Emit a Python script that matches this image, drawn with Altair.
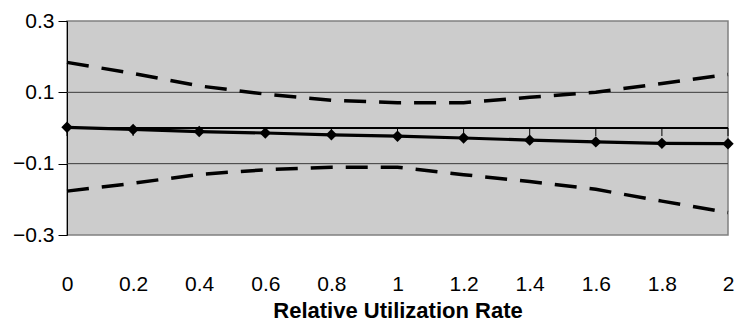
import altair as alt
import pandas as pd

x_vals = [0, 0.2, 0.4, 0.6, 0.8, 1.0, 1.2, 1.4, 1.6, 1.8, 2.0]
estimate = [0.002, -0.004, -0.010, -0.014, -0.019, -0.023, -0.028, -0.034, -0.039, -0.043, -0.044]
upper = [0.184, 0.153, 0.118, 0.095, 0.078, 0.071, 0.071, 0.086, 0.100, 0.125, 0.150]
lower = [-0.177, -0.155, -0.130, -0.117, -0.110, -0.110, -0.131, -0.150, -0.172, -0.205, -0.237]
y_ticks = [0.3, 0.1, -0.1, -0.3]
grid_vals = [0.1, -0.1]
x_ticks = [0, 0.2, 0.4, 0.6, 0.8, 1.0, 1.2, 1.4, 1.6, 1.8, 2.0]

LABEL_FONT = "Liberation Sans"
TITLE_FONT = "Liberation Sans"

est_df = pd.DataFrame({"x": x_vals, "y": estimate})
band_df = pd.concat([
    pd.DataFrame({"x": x_vals, "y": upper, "s": "upper"}),
    pd.DataFrame({"x": x_vals, "y": lower, "s": "lower"}),
])
grid_df = pd.DataFrame({"g": grid_vals})
tick_df = pd.DataFrame({"x": x_ticks})

xs = alt.Scale(domain=[0, 2], nice=False, zero=False)
ys = alt.Scale(domain=[-0.3, 0.3], nice=False, zero=False)

x_axis = alt.Axis(
    values=x_ticks, title="Relative Utilization Rate", domain=False, ticks=False,
    grid=False, labelPadding=38, labelFontSize=21, labelFont=LABEL_FONT,
    labelColor="#000", labelFlush=False, labelExpr="format(datum.value, '~g')",
    titleFont=TITLE_FONT, titleFontSize=22, titleFontWeight="bold",
    titleColor="#000", titlePadding=6,
)
y_axis = alt.Axis(
    values=y_ticks, title=None, grid=False, domain=True, domainColor="#000",
    domainWidth=1, ticks=True, tickSize=9, tickColor="#000", labelPadding=4,
    labelFontSize=21, labelFont=LABEL_FONT, labelColor="#000",
    labelExpr="format(datum.value, '.1f')", labelFlush=False,
)

grid = alt.Chart(grid_df).mark_rule(color="#3a3a3a", strokeWidth=1).encode(
    y=alt.Y("g:Q", scale=ys, axis=y_axis, title=None)
)
zero_line = alt.Chart(tick_df).mark_rule(color="#000", strokeWidth=1.2).encode(
    y=alt.datum(0, scale=ys),
)
ticks = alt.Chart(tick_df).mark_rule(color="#000", strokeWidth=1, y2Offset=8).encode(
    x=alt.X("x:Q", scale=xs, axis=x_axis, title="Relative Utilization Rate"),
    y=alt.datum(0),
    y2=alt.datum(0),
)
bands = alt.Chart(band_df).mark_line(
    color="#000", strokeWidth=3.5, strokeDash=[22, 13], strokeCap="butt"
).encode(
    x=alt.X("x:Q", scale=xs, axis=x_axis, title="Relative Utilization Rate"),
    y=alt.Y("y:Q", scale=ys, axis=y_axis, title=None),
    detail="s:N",
)
line = alt.Chart(est_df).mark_line(color="#000", strokeWidth=3.2).encode(
    x=alt.X("x:Q", scale=xs), y=alt.Y("y:Q", scale=ys)
)
pts = alt.Chart(est_df).mark_point(
    shape="diamond", filled=True, color="#000", size=130, opacity=1
).encode(x=alt.X("x:Q", scale=xs), y=alt.Y("y:Q", scale=ys))

chart = alt.layer(grid, bands, zero_line, ticks, line, pts).properties(
    width=661, height=214,
    autosize=alt.AutoSizeParams(type="none"),
    padding={"left": 67, "top": 21, "right": 12, "bottom": 91},
    background="#ffffff",
).configure_view(
    fill="#cccccc", stroke="#808080", strokeWidth=1.5
)

chart.save("out.html", embed_options={"renderer": "svg", "actions": False})
